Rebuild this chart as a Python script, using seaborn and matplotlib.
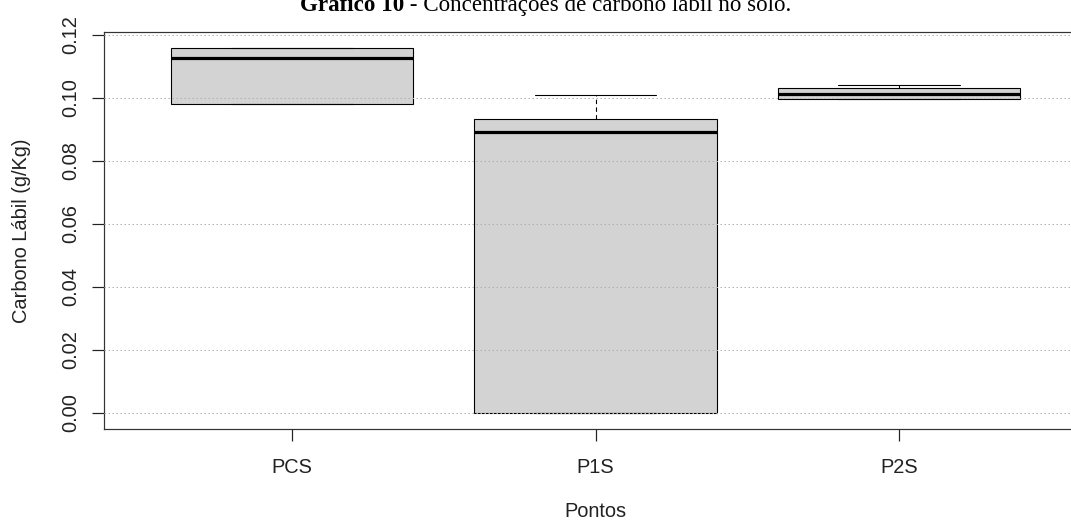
import numpy as np
import pandas as pd
import matplotlib
matplotlib.use('Agg')
import matplotlib.pyplot as plt
import seaborn as sns

# --- dados ---
pontos = ['PCS', 'P1S', 'P2S']
valores_pcs = [0.0980, 0.0980, 0.1126, 0.1157, 0.1157]
valores_p1s = [0.0000, 0.0000, 0.0891, 0.0932, 0.1008]
valores_p2s = [0.0996, 0.0996, 0.1011, 0.1030, 0.1040]
y_ticks = [0.00, 0.02, 0.04, 0.06, 0.08, 0.10, 0.12]

df = pd.DataFrame({
    'Pontos': ['PCS'] * len(valores_pcs) + ['P1S'] * len(valores_p1s) + ['P2S'] * len(valores_p2s),
    'Carbono': valores_pcs + valores_p1s + valores_p2s,
})

sns.set_style('white')
plt.rcParams['font.family'] = ['Liberation Sans', 'DejaVu Sans']

W, H, DPI = 1071, 525, 100
fig = plt.figure(figsize=(W / DPI, H / DPI), dpi=DPI)
# eixo em pixels: esquerda 104, direita 1087 (fora da imagem), topo 32, base 429
ax = fig.add_axes([104 / W, 1 - 429 / H, (1087 - 104) / W, (429 - 32) / H])

px = 72 / DPI  # 1 pixel em pontos
sns.boxplot(data=df, x='Pontos', y='Carbono', order=pontos, ax=ax,
            color='#d3d3d3', linecolor='black', linewidth=1.1 * px,
            width=0.8, saturation=1,
            medianprops=dict(linewidth=3.2 * px, color='black'),
            whiskerprops=dict(linestyle=(0, (4, 3))),
            boxprops=dict(facecolor='#d3d3d3', edgecolor='black'))

# grade horizontal pontilhada por cima das caixas
for v in y_ticks:
    ax.axhline(v, color='#b0b0b0', linestyle=(0, (1.5, 2.5)), linewidth=1.0 * px, zorder=5)

ax.set_xlim(-0.62, 2.62)
ax.set_ylim(-0.0051, 0.1208)
ax.set_yticks(y_ticks)
ax.set_yticklabels([f'{v:.2f}' for v in y_ticks])

for s in ax.spines.values():
    s.set_color('#333333')
    s.set_linewidth(1.2 * px)

fs = 20 * px
ax.tick_params(axis='both', which='both', direction='out', length=12 * px,
               width=1.2 * px, color='#222222', labelcolor='#222222', labelsize=fs)
ax.tick_params(axis='x', pad=17 * px, bottom=True)
ax.tick_params(axis='y', left=True, labelrotation=90, pad=12 * px)
for lab in ax.get_yticklabels():
    lab.set_va('center')

ax.set_xlabel('Pontos', fontsize=fs, color='#222222', labelpad=25 * px)
ax.set_ylabel('Carbono Lábil (g/Kg)', fontsize=fs, color='#222222', labelpad=30 * px)

# título (cortado no topo da imagem, como no original)
tfs = 23 * px
t1 = fig.text(300 / W, 1 - 11 / H, 'Gráfico 10', fontsize=tfs, fontweight='bold',
              family=['Liberation Serif', 'DejaVu Serif'], ha='left', va='baseline', color='black')
ax.annotate(' - Concentrações de carbono lábil no solo.', xy=(1, 0), xycoords=t1,
            fontsize=tfs, family=['Liberation Serif', 'DejaVu Serif'],
            ha='left', va='bottom', color='black', annotation_clip=False)

fig.savefig('out.png', dpi=DPI, facecolor='white')
